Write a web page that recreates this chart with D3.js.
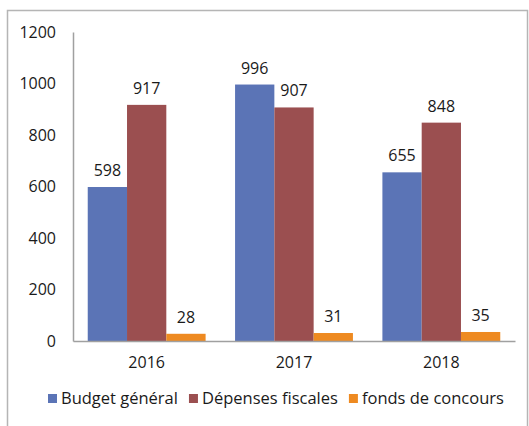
<!DOCTYPE html>
<html>
<head>
<meta charset="utf-8">
<script src="https://cdn.jsdelivr.net/npm/d3@7"></script>
<style>
  body { margin: 0; background: #fff; }
  text { font-family: "Open Sans", sans-serif; fill: #1a1a1a; }
</style>
</head>
<body>
<svg id="chart"></svg>
<script>
// data
var years = ['2016', '2017', '2018'];
var seriesNames = ['Budget général', 'Dépenses fiscales', 'fonds de concours'];
var budgetGeneral = [598, 996, 655];
var depensesFiscales = [917, 907, 848];
var fondsConcours = [28, 31, 35];
var yTicks = [0, 200, 400, 600, 800, 1000, 1200];
var colors = ['#5b74b6', '#9b4f50', '#ee8a21'];

var W = 529, H = 426;
var margin = {top: 32, right: 14, bottom: 85, left: 73};
var width = W - margin.left - margin.right,
    height = H - margin.top - margin.bottom;
var fs = '16px';

var svg = d3.select('#chart')
    .attr('width', W)
    .attr('height', H);

// outer frame
svg.append('rect')
    .attr('x', 7.5)
    .attr('y', 10.5)
    .attr('width', 520)
    .attr('height', 440)
    .attr('fill', 'none')
    .attr('stroke', '#b5b5b5')
    .attr('stroke-width', 1.5);

var g = svg.append('g')
    .attr('transform', 'translate(' + margin.left + ',' + margin.top + ')');

var x0 = d3.scaleBand()
    .domain(years)
    .range([0, width])
    .paddingInner(0.2)
    .paddingOuter(0.1);

var x1 = d3.scaleBand()
    .domain(seriesNames)
    .range([0, x0.bandwidth()]);

var y = d3.scaleLinear()
    .domain([0, 1200])
    .range([height, 0]);

var rows = years.map(function(yr, i) {
    return {
        year: yr,
        values: [budgetGeneral[i], depensesFiscales[i], fondsConcours[i]].map(function(v, j) {
            return {name: seriesNames[j], value: v, idx: j};
        })
    };
});

// y axis
var yAxis = g.append('g')
    .call(d3.axisLeft(y).tickValues(yTicks).tickFormat(d3.format('d')).tickSize(0).tickPadding(17));
yAxis.select('.domain').attr('stroke', '#a0a0a0').attr('stroke-width', 1.5);
yAxis.selectAll('text').style('font-size', fs).attr('fill', '#1a1a1a');

// bars
var groups = g.selectAll('.year')
    .data(rows)
    .enter().append('g')
    .attr('class', 'year')
    .attr('transform', function(d) { return 'translate(' + x0(d.year) + ',0)'; });

groups.selectAll('rect')
    .data(function(d) { return d.values; })
    .enter().append('rect')
    .attr('x', function(d) { return x1(d.name); })
    .attr('y', function(d) { return y(d.value); })
    .attr('width', x1.bandwidth())
    .attr('height', function(d) { return height - y(d.value); })
    .attr('fill', function(d) { return colors[d.idx]; });

groups.selectAll('.lbl')
    .data(function(d) { return d.values; })
    .enter().append('text')
    .attr('class', 'lbl')
    .attr('x', function(d) { return x1(d.name) + x1.bandwidth() / 2; })
    .attr('y', function(d) { return y(d.value) - 11; })
    .attr('text-anchor', 'middle')
    .style('font-size', fs)
    .text(function(d) { return d.value; });

// x axis
var xAxis = g.append('g')
    .attr('transform', 'translate(0,' + height + ')')
    .call(d3.axisBottom(x0).tickSize(0).tickPadding(16));
xAxis.select('.domain').attr('stroke', '#a0a0a0').attr('stroke-width', 1.5);
xAxis.selectAll('text').style('font-size', fs).attr('fill', '#1a1a1a');

// legend
var legend = svg.append('g')
    .attr('transform', 'translate(48,404)');
var lx = 0;
seriesNames.forEach(function(name, i) {
    var item = legend.append('g').attr('transform', 'translate(' + lx + ',0)');
    item.append('rect')
        .attr('x', 0)
        .attr('y', -10)
        .attr('width', 9)
        .attr('height', 9)
        .attr('fill', colors[i]);
    var t = item.append('text')
        .attr('x', 13)
        .attr('y', 0)
        .style('font-size', '16.5px')
        .text(name);
    lx += 13 + t.node().getComputedTextLength() + 11;
});
</script>
</body>
</html>
